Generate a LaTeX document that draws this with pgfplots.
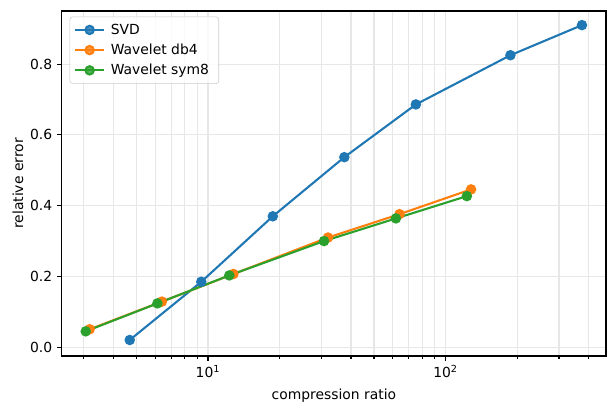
\documentclass[border=0pt]{standalone}
\usepackage{fontspec}
\setmainfont{DejaVu Sans}
\usepackage{pgfplots}
\pgfplotsset{compat=1.18}
\usetikzlibrary{calc}
\definecolor{tabblue}{HTML}{1F77B4}
\definecolor{taborange}{HTML}{FF7F0E}
\definecolor{tabgreen}{HTML}{2CA02C}
\definecolor{gridc}{HTML}{E7E7E7}
\begin{document}
\begin{tikzpicture}
\begin{axis}[
  scale only axis,
  width=391.7pt, height=248.4pt,
  xmode=log,
  xmin=2.43, xmax=473,
  ymin=-0.0245, ymax=0.95,
  xtick={10,100},
  xticklabels={10\textsuperscript{1},10\textsuperscript{2}},
  minor xtick={3,4,5,6,7,8,9,20,30,40,50,60,70,80,90,200,300,400},
  ytick={0,0.2,0.4,0.6,0.8},
  yticklabel style={/pgf/number format/.cd,fixed,fixed zerofill,precision=1},
  /pgf/number format/assume math mode=true,
  tick label style={font=\fontsize{10}{12}\selectfont},
  label style={font=\fontsize{10}{12}\selectfont},
  tick align=outside,
  major tick length=3.5pt,
  minor tick length=2pt,
  tick style={black, line width=0.8pt},
  xtick pos=bottom, ytick pos=left,
  axis line style={line width=0.8pt},
  xmajorgrids=true, xminorgrids=true, ymajorgrids=true,
  major grid style={gridc, line width=0.8pt},
  minor grid style={gridc, line width=0.8pt},
  xlabel={compression ratio},
  ylabel={relative error},
  xlabel style={yshift=-1pt},
  ylabel style={yshift=-2pt},
  legend style={at={(0,1)}, anchor=north west, xshift=5.5pt, yshift=-4pt,
    draw=black!20, rounded corners=2pt, fill=white, fill opacity=0.8, text opacity=1,
    font=\fontsize{10}{12}\selectfont, row sep=1.5pt, inner xsep=3pt, inner ysep=3pt,
    nodes={inner xsep=4pt}},
  legend cell align=left,
  legend image code/.code={\draw[mark repeat=2,mark phase=2] plot coordinates {(0pt,0pt)(10.5pt,0pt)(21pt,0pt)};},
  every axis plot/.append style={line width=1.5pt, mark=*, mark size=3pt, mark options={solid, line width=0pt}},
]
\addplot[color=tabblue, mark options={fill=tabblue, draw=tabblue}] coordinates {
  (4.6875,0.0206) (9.375,0.185) (18.75,0.370) (37.5,0.537) (75,0.686) (187.5,0.825) (375,0.910)
};
\addlegendentry{SVD}
\addplot[color=taborange, mark options={fill=taborange, draw=taborange}] coordinates {
  (3.18,0.051) (6.4,0.129) (12.8,0.207) (32,0.310) (64,0.376) (128,0.446)
};
\addlegendentry{Wavelet db4}
\addplot[color=tabgreen, mark options={fill=tabgreen, draw=tabgreen}] coordinates {
  (3.06,0.045) (6.13,0.124) (12.3,0.203) (30.8,0.300) (61.8,0.364) (122.9,0.427)
};
\addlegendentry{Wavelet sym8}
\end{axis}
\path ($(current axis.south west)+(-44.6pt,-40.3pt)$) rectangle ($(current axis.north east)+(5.8pt,7.9pt)$);
\end{tikzpicture}
\end{document}
